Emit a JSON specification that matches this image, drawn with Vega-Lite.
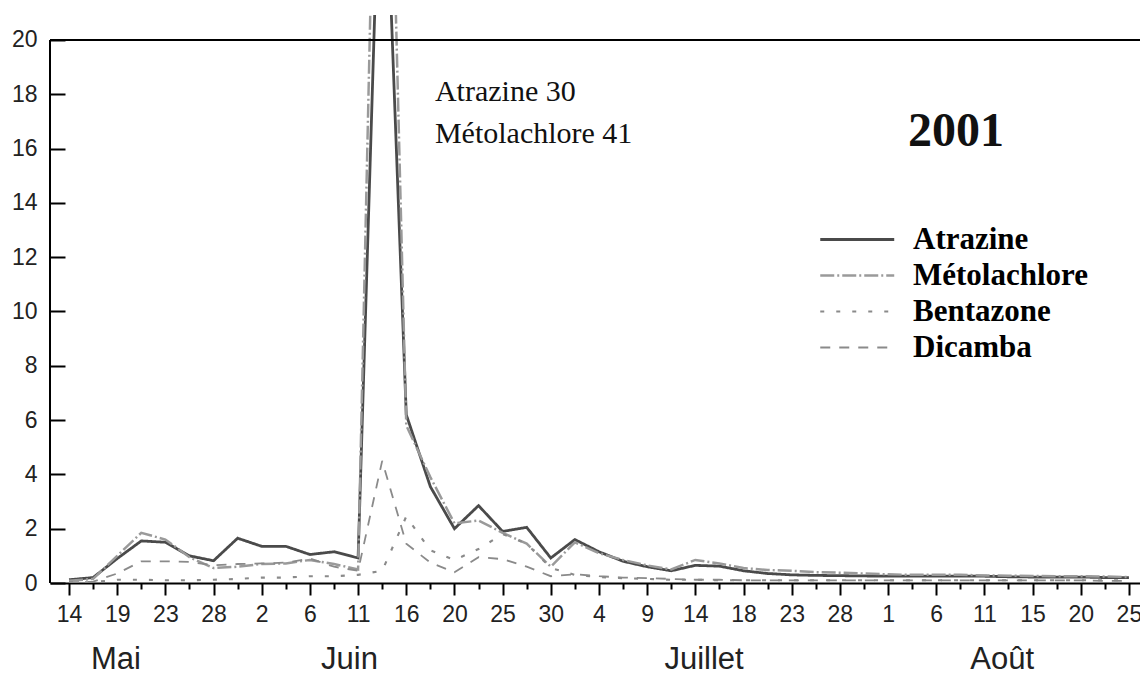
{
  "$schema": "https://vega.github.io/schema/vega-lite/v6.json",
  "width": 1090,
  "height": 568,
  "autosize": "none",
  "padding": {"left": 50, "top": 15, "right": 0, "bottom": 91},
  "background": "white",
  "config": {
    "view": {"stroke": null},
    "axis": {"grid": false, "title": null, "domainColor": "black", "domainWidth": 2, "tickColor": "black", "tickWidth": 2, "labelFont": "Liberation Sans", "labelFontSize": 23, "labelColor": "#222222", "labelOverlap": false, "labelFlush": false, "labelBound": false}
  },
  "datasets": {
    "conc": [
      {"n":0,"serie":"Atrazine","v":0.12},{"n":1,"serie":"Atrazine","v":0.2},{"n":2,"serie":"Atrazine","v":0.9},{"n":3,"serie":"Atrazine","v":1.55},{"n":4,"serie":"Atrazine","v":1.5},{"n":5,"serie":"Atrazine","v":1.0},{"n":6,"serie":"Atrazine","v":0.82},{"n":7,"serie":"Atrazine","v":1.65},{"n":8,"serie":"Atrazine","v":1.35},{"n":9,"serie":"Atrazine","v":1.35},{"n":10,"serie":"Atrazine","v":1.05},{"n":11,"serie":"Atrazine","v":1.15},{"n":12,"serie":"Atrazine","v":0.92},{"n":13,"serie":"Atrazine","v":30},{"n":14,"serie":"Atrazine","v":6.2},{"n":15,"serie":"Atrazine","v":3.55},{"n":16,"serie":"Atrazine","v":2.0},{"n":17,"serie":"Atrazine","v":2.85},{"n":18,"serie":"Atrazine","v":1.9},{"n":19,"serie":"Atrazine","v":2.05},{"n":20,"serie":"Atrazine","v":0.92},{"n":21,"serie":"Atrazine","v":1.6},{"n":22,"serie":"Atrazine","v":1.15},{"n":23,"serie":"Atrazine","v":0.8},{"n":24,"serie":"Atrazine","v":0.6},{"n":25,"serie":"Atrazine","v":0.45},{"n":26,"serie":"Atrazine","v":0.65},{"n":27,"serie":"Atrazine","v":0.62},{"n":28,"serie":"Atrazine","v":0.45},{"n":29,"serie":"Atrazine","v":0.35},{"n":30,"serie":"Atrazine","v":0.3},{"n":31,"serie":"Atrazine","v":0.28},{"n":32,"serie":"Atrazine","v":0.27},{"n":33,"serie":"Atrazine","v":0.26},{"n":34,"serie":"Atrazine","v":0.25},{"n":35,"serie":"Atrazine","v":0.25},{"n":36,"serie":"Atrazine","v":0.25},{"n":37,"serie":"Atrazine","v":0.25},{"n":38,"serie":"Atrazine","v":0.25},{"n":39,"serie":"Atrazine","v":0.23},{"n":40,"serie":"Atrazine","v":0.22},{"n":41,"serie":"Atrazine","v":0.22},{"n":42,"serie":"Atrazine","v":0.22},{"n":43,"serie":"Atrazine","v":0.2},{"n":44,"serie":"Atrazine","v":0.2},
      {"n":0,"serie":"Métolachlore","v":0.08},{"n":1,"serie":"Métolachlore","v":0.15},{"n":2,"serie":"Métolachlore","v":1.0},{"n":3,"serie":"Métolachlore","v":1.85},{"n":4,"serie":"Métolachlore","v":1.6},{"n":5,"serie":"Métolachlore","v":0.95},{"n":6,"serie":"Métolachlore","v":0.55},{"n":7,"serie":"Métolachlore","v":0.6},{"n":8,"serie":"Métolachlore","v":0.7},{"n":9,"serie":"Métolachlore","v":0.72},{"n":10,"serie":"Métolachlore","v":0.85},{"n":11,"serie":"Métolachlore","v":0.7},{"n":12,"serie":"Métolachlore","v":0.5},{"n":13,"serie":"Métolachlore","v":41},{"n":14,"serie":"Métolachlore","v":5.8},{"n":15,"serie":"Métolachlore","v":3.9},{"n":16,"serie":"Métolachlore","v":2.2},{"n":17,"serie":"Métolachlore","v":2.3},{"n":18,"serie":"Métolachlore","v":1.85},{"n":19,"serie":"Métolachlore","v":1.45},{"n":20,"serie":"Métolachlore","v":0.6},{"n":21,"serie":"Métolachlore","v":1.5},{"n":22,"serie":"Métolachlore","v":1.1},{"n":23,"serie":"Métolachlore","v":0.85},{"n":24,"serie":"Métolachlore","v":0.65},{"n":25,"serie":"Métolachlore","v":0.5},{"n":26,"serie":"Métolachlore","v":0.85},{"n":27,"serie":"Métolachlore","v":0.72},{"n":28,"serie":"Métolachlore","v":0.55},{"n":29,"serie":"Métolachlore","v":0.48},{"n":30,"serie":"Métolachlore","v":0.45},{"n":31,"serie":"Métolachlore","v":0.4},{"n":32,"serie":"Métolachlore","v":0.38},{"n":33,"serie":"Métolachlore","v":0.35},{"n":34,"serie":"Métolachlore","v":0.32},{"n":35,"serie":"Métolachlore","v":0.3},{"n":36,"serie":"Métolachlore","v":0.3},{"n":37,"serie":"Métolachlore","v":0.3},{"n":38,"serie":"Métolachlore","v":0.28},{"n":39,"serie":"Métolachlore","v":0.27},{"n":40,"serie":"Métolachlore","v":0.26},{"n":41,"serie":"Métolachlore","v":0.25},{"n":42,"serie":"Métolachlore","v":0.25},{"n":43,"serie":"Métolachlore","v":0.24},{"n":44,"serie":"Métolachlore","v":0.22},
      {"n":0,"serie":"Bentazone","v":0.02},{"n":1,"serie":"Bentazone","v":0.03},{"n":2,"serie":"Bentazone","v":0.12},{"n":3,"serie":"Bentazone","v":0.12},{"n":4,"serie":"Bentazone","v":0.1},{"n":5,"serie":"Bentazone","v":0.1},{"n":6,"serie":"Bentazone","v":0.12},{"n":7,"serie":"Bentazone","v":0.15},{"n":8,"serie":"Bentazone","v":0.2},{"n":9,"serie":"Bentazone","v":0.2},{"n":10,"serie":"Bentazone","v":0.25},{"n":11,"serie":"Bentazone","v":0.25},{"n":12,"serie":"Bentazone","v":0.3},{"n":13,"serie":"Bentazone","v":0.45},{"n":14,"serie":"Bentazone","v":2.45},{"n":15,"serie":"Bentazone","v":1.2},{"n":16,"serie":"Bentazone","v":0.85},{"n":17,"serie":"Bentazone","v":1.25},{"n":18,"serie":"Bentazone","v":1.8},{"n":19,"serie":"Bentazone","v":1.45},{"n":20,"serie":"Bentazone","v":0.55},{"n":21,"serie":"Bentazone","v":0.3},{"n":22,"serie":"Bentazone","v":0.22},{"n":23,"serie":"Bentazone","v":0.18},{"n":24,"serie":"Bentazone","v":0.15},{"n":25,"serie":"Bentazone","v":0.12},{"n":26,"serie":"Bentazone","v":0.12},{"n":27,"serie":"Bentazone","v":0.1},{"n":28,"serie":"Bentazone","v":0.1},{"n":29,"serie":"Bentazone","v":0.1},{"n":30,"serie":"Bentazone","v":0.1},{"n":31,"serie":"Bentazone","v":0.1},{"n":32,"serie":"Bentazone","v":0.1},{"n":33,"serie":"Bentazone","v":0.1},{"n":34,"serie":"Bentazone","v":0.1},{"n":35,"serie":"Bentazone","v":0.1},{"n":36,"serie":"Bentazone","v":0.1},{"n":37,"serie":"Bentazone","v":0.1},{"n":38,"serie":"Bentazone","v":0.1},{"n":39,"serie":"Bentazone","v":0.1},{"n":40,"serie":"Bentazone","v":0.1},{"n":41,"serie":"Bentazone","v":0.1},{"n":42,"serie":"Bentazone","v":0.1},{"n":43,"serie":"Bentazone","v":0.1},{"n":44,"serie":"Bentazone","v":0.1},
      {"n":0,"serie":"Dicamba","v":0.02},{"n":1,"serie":"Dicamba","v":0.05},{"n":2,"serie":"Dicamba","v":0.35},{"n":3,"serie":"Dicamba","v":0.8},{"n":4,"serie":"Dicamba","v":0.8},{"n":5,"serie":"Dicamba","v":0.78},{"n":6,"serie":"Dicamba","v":0.65},{"n":7,"serie":"Dicamba","v":0.7},{"n":8,"serie":"Dicamba","v":0.72},{"n":9,"serie":"Dicamba","v":0.75},{"n":10,"serie":"Dicamba","v":0.9},{"n":11,"serie":"Dicamba","v":0.6},{"n":12,"serie":"Dicamba","v":0.45},{"n":13,"serie":"Dicamba","v":4.5},{"n":14,"serie":"Dicamba","v":1.45},{"n":15,"serie":"Dicamba","v":0.75},{"n":16,"serie":"Dicamba","v":0.4},{"n":17,"serie":"Dicamba","v":0.95},{"n":18,"serie":"Dicamba","v":0.88},{"n":19,"serie":"Dicamba","v":0.6},{"n":20,"serie":"Dicamba","v":0.25},{"n":21,"serie":"Dicamba","v":0.32},{"n":22,"serie":"Dicamba","v":0.25},{"n":23,"serie":"Dicamba","v":0.2},{"n":24,"serie":"Dicamba","v":0.18},{"n":25,"serie":"Dicamba","v":0.15},{"n":26,"serie":"Dicamba","v":0.12},{"n":27,"serie":"Dicamba","v":0.12},{"n":28,"serie":"Dicamba","v":0.1},{"n":29,"serie":"Dicamba","v":0.1},{"n":30,"serie":"Dicamba","v":0.1},{"n":31,"serie":"Dicamba","v":0.1},{"n":32,"serie":"Dicamba","v":0.1},{"n":33,"serie":"Dicamba","v":0.1},{"n":34,"serie":"Dicamba","v":0.1},{"n":35,"serie":"Dicamba","v":0.1},{"n":36,"serie":"Dicamba","v":0.1},{"n":37,"serie":"Dicamba","v":0.1},{"n":38,"serie":"Dicamba","v":0.1},{"n":39,"serie":"Dicamba","v":0.1},{"n":40,"serie":"Dicamba","v":0.1},{"n":41,"serie":"Dicamba","v":0.1},{"n":42,"serie":"Dicamba","v":0.1},{"n":43,"serie":"Dicamba","v":0.08},{"n":44,"serie":"Dicamba","v":0.08}
    ]
  },
  "resolve": {"axis": {"x": "independent"}},
  "layer": [
    {
      "data": {"name": "conc"},
      "mark": {"type": "line", "clip": true},
      "encoding": {
        "x": {"field": "n", "type": "quantitative", "scale": {"domain": [-0.79, 44.46], "nice": false, "zero": false},
          "axis": {"orient": "bottom", "values": [0,1,2,3,4,5,6,7,8,9,10,11,12,13,14,15,16,17,18,19,20,21,22,23,24,25,26,27,28,29,30,31,32,33,34,35,36,37,38,39,40,41,42,43,44],
            "labelExpr": "datum.value % 2 == 0 ? ['14','19','23','28','2','6','11','16','20','25','30','4','9','14','18','23','28','1','6','11','15','20','25'][datum.value/2] : ''",
            "tickSize": {"condition": {"test": "datum.value % 2 == 1", "value": 6}, "value": 12},
            "labelPadding": 8}},
        "y": {"field": "v", "type": "quantitative", "scale": {"domain": [0, 20.92], "nice": false},
          "axis": {"orient": "left", "domain": false, "values": [0,1,2,3,4,5,6,7,8,9,10,11,12,13,14,15,16,17,18,19,20],
            "labelExpr": "datum.value % 2 == 0 ? datum.label : ''",
            "tickSize": {"condition": {"test": "datum.value % 2 == 1", "value": -7}, "value": -15},
            "labelPadding": 28}},
        "color": {"field": "serie", "type": "ordinal", "scale": {"domain": ["Atrazine","Métolachlore","Bentazone","Dicamba"], "range": ["#4a4a4a","#9a9a9a","#8a8a8a","#8a8a8a"]},
          "legend": {"title": null, "orient": "none", "legendX": 764, "legendY": 209, "symbolType": "M-1,0H7", "symbolSize": 342, "labelFont": "Liberation Serif", "labelFontWeight": "bold", "labelFontSize": 31, "labelColor": "black", "labelOffset": 68, "rowPadding": 4, "labelLimit": 500}},
        "strokeDash": {"field": "serie", "type": "ordinal", "scale": {"domain": ["Atrazine","Métolachlore","Bentazone","Dicamba"], "range": [[1,0],[14,3,2,3],[4,12],[10,9]]}},
        "strokeWidth": {"field": "serie", "type": "ordinal", "scale": {"domain": ["Atrazine","Métolachlore","Bentazone","Dicamba"], "range": [2.8,1.8,1.8,1.8]}}
      }
    },
    {
      "data": {"values": [{}]},
      "mark": {"type": "rule", "color": "black", "strokeWidth": 2},
      "encoding": {"y": {"datum": 20}}
    },
    {
      "data": {"values": [{}]},
      "mark": {"type": "rule", "color": "black", "strokeWidth": 2},
      "encoding": {
        "x": {"datum": -0.79, "type": "quantitative",
          "axis": {"orient": "bottom", "domain": false, "ticks": false, "values": [1.93, 11.62, 26.34, 38.72],
            "labelExpr": "datum.value < 5 ? 'Mai' : datum.value < 20 ? 'Juin' : datum.value < 30 ? 'Juillet' : 'Août'",
            "labelFontSize": 31, "labelPadding": 61}},
        "y": {"datum": 0},
        "y2": {"datum": 20}
      }
    },
    {
      "data": {"values": [{}]},
      "mark": {"type": "text", "font": "Liberation Serif", "fontSize": 30, "align": "left", "baseline": "alphabetic", "lineHeight": 42, "color": "#111111"},
      "encoding": {
        "x": {"datum": 15.19, "type": "quantitative", "axis": null},
        "y": {"datum": 17.77},
        "text": {"value": ["Atrazine 30", "Métolachlore 41"]}
      }
    },
    {
      "data": {"values": [{}]},
      "mark": {"type": "text", "font": "Liberation Serif", "fontSize": 48, "fontWeight": "bold", "align": "left", "baseline": "alphabetic", "color": "#111111"},
      "encoding": {
        "x": {"datum": 34.83, "type": "quantitative", "axis": null},
        "y": {"datum": 16.1},
        "text": {"value": "2001"}
      }
    }
  ]
}
